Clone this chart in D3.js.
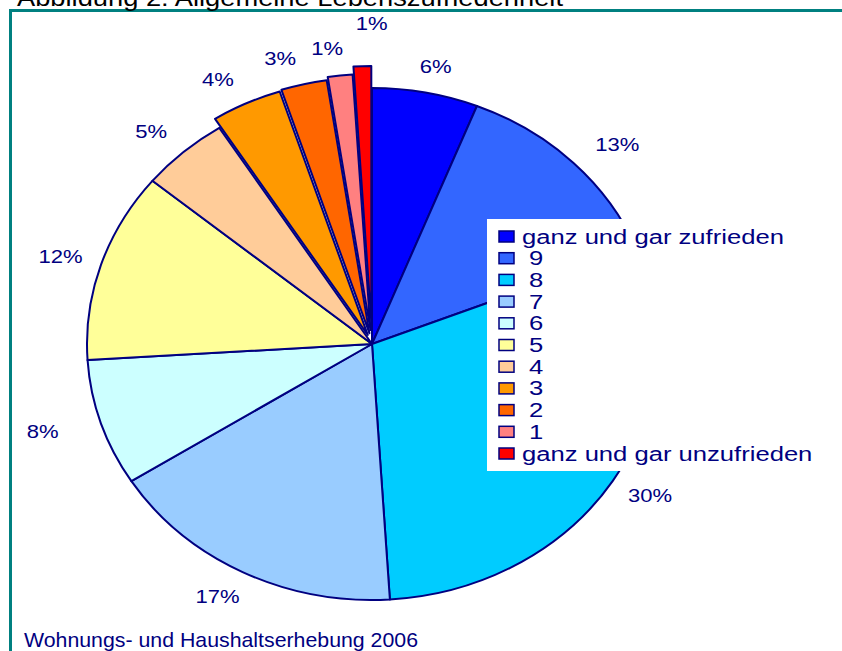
<!DOCTYPE html>
<html>
<head>
<meta charset="utf-8">
<script src="https://cdn.jsdelivr.net/npm/d3@7"></script>
<style>
  body { margin: 0; background: #fff; }
  text { font-family: "Liberation Sans", Arial, sans-serif; }
</style>
</head>
<body>
<script>
// Chart data
const categories = ["ganz und gar zufrieden", "9", "8", "7", "6", "5", "4", "3", "2", "1", "ganz und gar unzufrieden"];
const shares = [6, 13, 30, 17, 8, 12, 5, 4, 2.6, 1.4, 1];
const valueLabels = ["6%", "13%", "30%", "17%", "8%", "12%", "5%", "4%", "3%", "1%", "1%"];
const titleText = "Abbildung 2: Allgemeine Lebenszufriedenheit";
const sourceText = "Wohnungs- und Haushaltserhebung 2006";

// Styles
const colors = ["#0000FF", "#3366FF", "#00CCFF", "#99CCFF", "#CCFFFF", "#FFFF99",
                "#FFCC99", "#FF9900", "#FF6600", "#FF8080", "#FF0000"];
const explode = [0, 0, 0, 0, 0, 0, 0, 10, 11, 14, 22];
const labelNudge = [[0, 0], [5, 0], [-9, 0], [0, 0], [-6, 0], [12, 0], [4, 0], [-5, 0], [-11, 0], [-7, 0], [11, -16]];
const navy = "#000080";

const W = 842, H = 651;
const cx = 372, cy = 344, rx = 285, ry = 256;
const labelRx = 340, labelRy = 283;

const svg = d3.select("body").append("svg")
    .attr("width", W)
    .attr("height", H);

// stretch a text horizontally by a factor
function stretch(sel, f) {
    sel.each(function () {
        const w = this.getComputedTextLength();
        d3.select(this).attr("textLength", w * f).attr("lengthAdjust", "spacingAndGlyphs");
    });
}

// frame
svg.append("rect")
    .attr("x", 10.5).attr("y", 10.5)
    .attr("width", 900).attr("height", 700)
    .attr("fill", "#fff")
    .attr("stroke", "#008080")
    .attr("stroke-width", 3);

svg.append("text")
    .attr("x", 17).attr("y", 6)
    .attr("font-size", 24)
    .attr("fill", "#000")
    .attr("textLength", 546)
    .attr("lengthAdjust", "spacingAndGlyphs")
    .text(titleText);

// pie
const pie = d3.pie().sort(null).value(d => d);
const arcs = pie(shares);
const arc = d3.arc().innerRadius(0).outerRadius(rx);
const k = ry / rx;
const mid = d => (d.startAngle + d.endAngle) / 2;

svg.append("g")
    .selectAll("g")
    .data(arcs)
    .join("g")
    .attr("transform", (d, i) => {
        const a = mid(d), e = explode[i];
        return `translate(${cx + Math.sin(a) * e},${cy - Math.cos(a) * e}) scale(1,${k})`;
    })
    .append("path")
    .attr("d", arc)
    .attr("fill", (d, i) => colors[i])
    .attr("stroke", navy)
    .attr("stroke-width", 2)
    .attr("stroke-linejoin", "round")
    .attr("vector-effect", "non-scaling-stroke");

// value labels
const labels = svg.append("g")
    .selectAll("text")
    .data(arcs)
    .join("text")
    .attr("x", (d, i) => cx + Math.sin(mid(d)) * (labelRx + explode[i]) + labelNudge[i][0])
    .attr("y", (d, i) => cy - Math.cos(mid(d)) * (labelRy + explode[i]) + labelNudge[i][1])
    .attr("dy", "0.35em")
    .attr("text-anchor", "middle")
    .attr("font-size", 19)
    .attr("fill", navy)
    .text((d, i) => valueLabels[i]);
stretch(labels, 1.16);

// legend
const legend = svg.append("g");
legend.append("rect")
    .attr("x", 487).attr("y", 219)
    .attr("width", 335).attr("height", 252)
    .attr("fill", "#fff");

const rows = legend.selectAll("g")
    .data(categories)
    .join("g")
    .attr("transform", (d, i) => `translate(0,${236.5 + i * 21.7})`);

rows.append("rect")
    .attr("x", 499).attr("y", -5.5)
    .attr("width", 15).attr("height", 11)
    .attr("fill", (d, i) => colors[i])
    .attr("stroke", navy)
    .attr("stroke-width", 1.5);

const legendText = rows.append("text")
    .attr("x", 522).attr("y", 7)
    .attr("font-size", 20)
    .attr("fill", navy)
    .style("white-space", "pre")
    .text(d => d.length > 2 ? d : " " + d);
stretch(legendText, 1.28);

// source
svg.append("text")
    .attr("x", 24).attr("y", 647)
    .attr("font-size", 21)
    .attr("fill", navy)
    .attr("textLength", 394)
    .attr("lengthAdjust", "spacingAndGlyphs")
    .text(sourceText);
</script>
</body>
</html>
